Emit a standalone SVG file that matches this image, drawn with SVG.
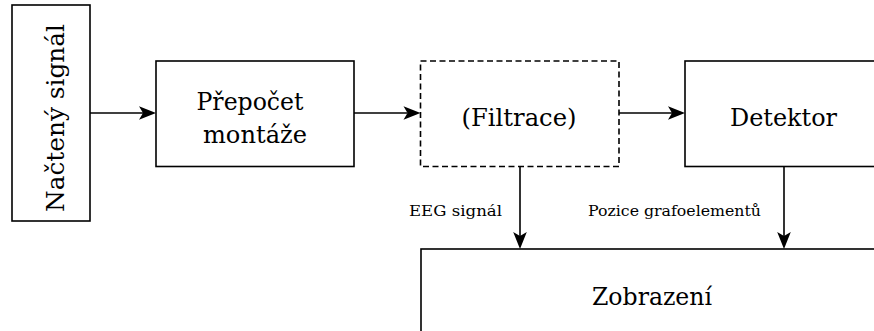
<svg xmlns="http://www.w3.org/2000/svg" width="874" height="331" viewBox="0 0 874 331">
<style>
  .box { fill: #ffffff; stroke: #000000; stroke-width: 1.6; }
  .dashed { stroke-dasharray: 6 3.5; }
  .big { font-family: 'DejaVu Serif', 'Liberation Serif', serif; font-size: 25px; fill: #000000; }
  .small { font-family: 'DejaVu Serif', 'Liberation Serif', serif; font-size: 14px; fill: #000000; }
  .conn { stroke: #000000; stroke-width: 1.6; fill: none; marker-end: url(#stealth); }
</style>
<defs>
  <marker id="stealth" markerUnits="userSpaceOnUse" viewBox="-6 -8 22 16" markerWidth="22" markerHeight="16" refX="0" refY="0" orient="auto">
    <path d="M13,0 L-4,-6.8 L0,0 L-4,6.8 Z" fill="#000000"/>
  </marker>
</defs>
<rect width="874" height="331" fill="#ffffff"/>

<g id="nacteny-signal">
  <rect class="box" x="12" y="5" width="78" height="216"/>
  <text class="big" transform="translate(64,118) rotate(-90)" x="0" y="0" text-anchor="middle" textLength="188" lengthAdjust="spacingAndGlyphs">Načtený signál</text>
</g>

<g id="prepocet-montaze">
  <rect class="box" x="156" y="61" width="198" height="105.5"/>
  <text class="big" x="250" y="110" text-anchor="middle" textLength="107" lengthAdjust="spacingAndGlyphs">Přepočet</text>
  <text class="big" x="255" y="143" text-anchor="middle" textLength="104" lengthAdjust="spacingAndGlyphs">montáže</text>
</g>

<g id="filtrace">
  <rect class="box dashed" x="420.5" y="61" width="198.5" height="105.5"/>
  <text class="big" x="519" y="126" text-anchor="middle" textLength="115" lengthAdjust="spacingAndGlyphs">(Filtrace)</text>
</g>

<g id="detektor">
  <rect class="box" x="685" y="61" width="220" height="105.5"/>
  <text class="big" x="783.5" y="126" text-anchor="middle" textLength="107" lengthAdjust="spacingAndGlyphs">Detektor</text>
</g>

<g id="zobrazeni">
  <rect class="box" x="421" y="249" width="500" height="120"/>
  <text class="big" x="652" y="305" text-anchor="middle" textLength="120" lengthAdjust="spacingAndGlyphs">Zobrazení</text>
</g>

<g id="connectors">
  <line class="conn" x1="90" y1="113" x2="143" y2="113"/>
  <line class="conn" x1="354" y1="113" x2="407.5" y2="113"/>
  <line class="conn" x1="619" y1="113" x2="672" y2="113"/>
  <line class="conn" x1="520" y1="166.5" x2="520" y2="236"/>
  <line class="conn" x1="784" y1="166.5" x2="784" y2="236"/>
  <text class="small" x="409" y="216" textLength="93" lengthAdjust="spacingAndGlyphs">EEG signál</text>
  <text class="small" x="588" y="216" textLength="173" lengthAdjust="spacingAndGlyphs">Pozice grafoelementů</text>
</g>
</svg>
